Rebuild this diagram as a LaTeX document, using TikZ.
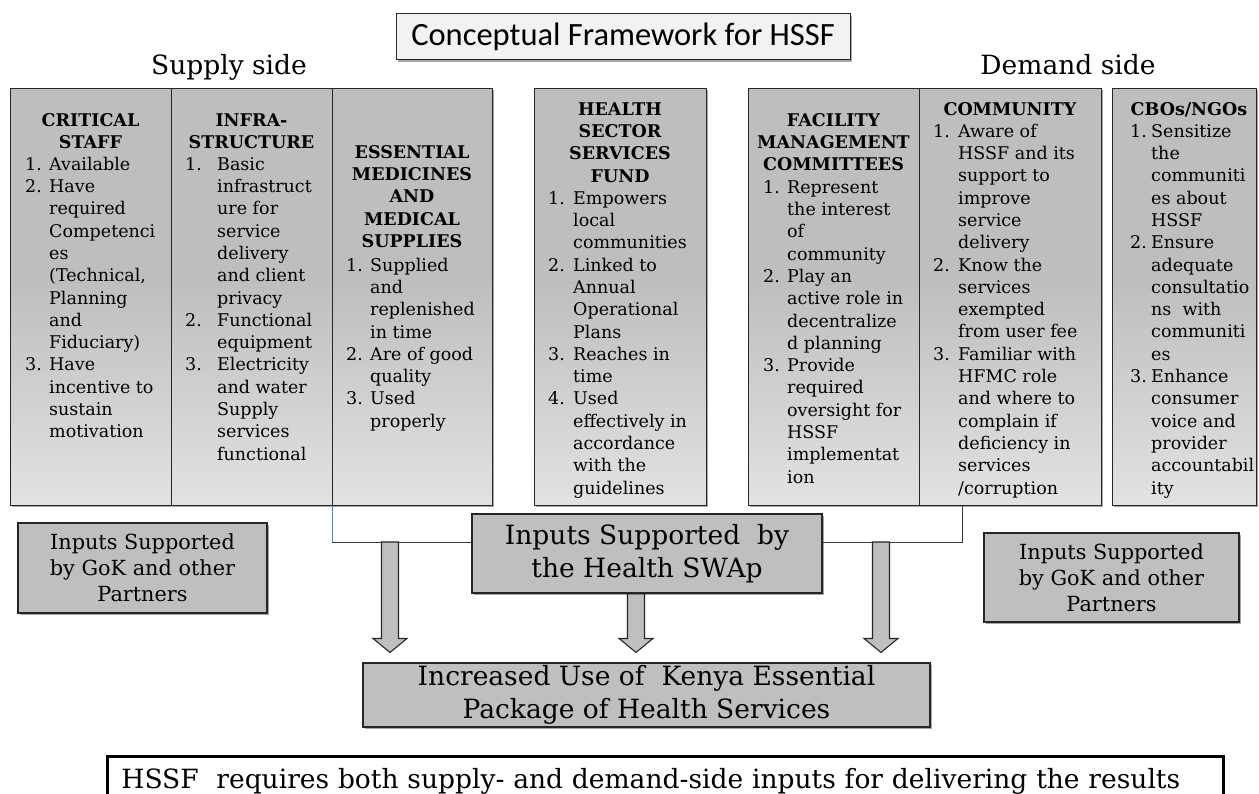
\documentclass[tikz,border=0pt]{standalone}
\usepackage{fontspec}
\setmainfont{DejaVu Serif}
\newfontfamily\titlefont{Carlito}
\usetikzlibrary{shadows,calc}
\definecolor{gtop}{HTML}{BEBEBE}
\definecolor{gbot}{HTML}{E2E2E2}
\definecolor{boxgray}{HTML}{BFBFBF}
\definecolor{titlefill}{HTML}{F2F2F2}
\definecolor{edge}{HTML}{262626}
\definecolor{bluelink}{HTML}{4F81BD}
\definecolor{linkgray}{HTML}{3A3A3A}
\pgfdeclareverticalshading{colgrad}{100bp}{color(0bp)=(gbot); color(25bp)=(gbot); color(52bp)=(gtop); color(100bp)=(gtop)}
\newcommand\bodyfont{\fontsize{17.5}{22.3}\selectfont}
\newcommand\firstl{\rule{0pt}{15pt}}
\newcommand\numlab[2]{\llap{\makebox[#1][l]{#2}}}
\newcommand\blockarrowpath[2]{\draw[blockarrow] ($(#1)+(-8.5,0)$) -- ($(#2)+(-8.5,-14)$) -- ($(#2)+(-17,-14)$) -- (#2) -- ($(#2)+(17,-14)$) -- ($(#2)+(8.5,-14)$) -- ($(#1)+(8.5,0)$) -- cycle;}
\begin{document}
\begin{tikzpicture}[x=1pt,y=-1pt,
  shadowed/.style={drop shadow={shadow xshift=1.8pt,shadow yshift=-1.8pt,opacity=0.35,fill=black}},
  colbox/.style={shadowed, draw=edge, line width=1.1pt, shading=colgrad, minimum height=417pt, inner sep=0pt, anchor=north west},
  greybox/.style={shadowed, draw=edge, line width=1.1pt, fill=boxgray, align=center, inner sep=0pt},
  hdr/.style={font=\bodyfont\bfseries, align=center, anchor=north, inner sep=0pt},
  lst/.style={font=\bodyfont, align=left, anchor=north west, inner sep=0pt},
  blockarrow/.style={draw=edge, line width=1.1pt, fill=boxgray, line join=miter},
  link/.style={draw=linkgray, line width=0.8pt},
  bluesegment/.style={draw=bluelink, line width=0.8pt},
  sidetitle/.style={anchor=base, inner sep=0pt, font=\fontsize{26.5}{30}\selectfont}
]
\useasboundingbox (0,0) rectangle (1259,794);

% title
\node[draw=edge, line width=1pt, fill=titlefill, shadowed, minimum width=454pt, minimum height=46pt, inner sep=0pt, font=\titlefont\fontsize{32.5}{36}\selectfont] (title) at (623,37) {Conceptual Framework for HSSF};
\node[sidetitle] (supply) at (229,75) {Supply side};
\node[sidetitle] (demand) at (1068,75) {Demand side};

% columns
\node[colbox, minimum width=161pt] (c1) at (10,88) {};
\node[colbox, minimum width=161pt] (c2) at (171,88) {};
\node[colbox, minimum width=160pt] (c3) at (332,88) {};
\node[colbox, minimum width=172pt] (hf) at (534,88) {};
\node[colbox, minimum width=171pt] (fm) at (748,88) {};
\node[colbox, minimum width=182pt] (cm) at (919,88) {};
\node[colbox, minimum width=144pt] (cb) at (1112,88) {};

% column texts
\node[hdr] (c1h) at (90.5,111) {\firstl CRITICAL\\STAFF};
\node[lst] (c1l) at (49,155) {\firstl\numlab{24pt}{1.}Available\\\numlab{24pt}{2.}Have\\required\\Competenci\\es\\(Technical,\\Planning\\and\\Fiduciary)\\\numlab{24pt}{3.}Have\\incentive to\\sustain\\motivation};

\node[hdr] (c2h) at (251.5,111) {\firstl INFRA-\\STRUCTURE};
\node[lst] (c2l) at (217,155) {\firstl\numlab{32pt}{1.}Basic\\infrastruct\\ure for\\service\\delivery\\and client\\privacy\\\numlab{32pt}{2.}Functional\\equipment\\\numlab{32pt}{3.}Electricity\\and water\\Supply\\services\\functional};

\node[hdr] (c3h) at (412,143) {\firstl ESSENTIAL\\MEDICINES\\AND\\MEDICAL\\SUPPLIES};
\node[lst] (c3l) at (370,256) {\firstl\numlab{24pt}{1.}Supplied\\and\\replenished\\in time\\\numlab{24pt}{2.}Are of good\\quality\\\numlab{24pt}{3.}Used\\properly};

\node[hdr] (hfh) at (620,100) {\firstl HEALTH\\SECTOR\\SERVICES\\FUND};
\node[lst] (hfl) at (573,189) {\firstl\numlab{25pt}{1.}Empowers\\local\\communities\\\numlab{25pt}{2.}Linked to\\Annual\\Operational\\Plans\\\numlab{25pt}{3.}Reaches in\\time\\\numlab{25pt}{4.}Used\\effectively in\\accordance\\with the\\guidelines};

\node[hdr] (fmh) at (833.5,111) {\firstl FACILITY\\MANAGEMENT\\COMMITTEES};
\node[lst] (fml) at (787,178) {\firstl\numlab{24pt}{1.}Represent\\the interest\\of\\community\\\numlab{24pt}{2.}Play an\\active role in\\decentralize\\d planning\\\numlab{24pt}{3.}Provide\\required\\oversight for\\HSSF\\implementat\\ion};

\node[hdr] (cmh) at (1010,100) {\firstl COMMUNITY};
\node[lst] (cml) at (958,122) {\firstl\numlab{25pt}{1.}Aware of\\HSSF and its\\support to\\improve\\service\\delivery\\\numlab{25pt}{2.}Know the\\services\\exempted\\from user fee\\\numlab{25pt}{3.}Familiar with\\HFMC role\\and where to\\complain if\\deficiency in\\services\\/corruption};

\node[hdr] (cbh) at (1189,100) {\firstl CBOs/NGOs};
\node[lst] (cbl) at (1151,122) {\firstl\numlab{21pt}{1.}Sensitize\\the\\communiti\\es about\\HSSF\\\numlab{21pt}{2.}Ensure\\adequate\\consultatio\\ns\ \ with\\communiti\\es\\\numlab{21pt}{3.}Enhance\\consumer\\voice and\\provider\\accountabil\\ity};

% side boxes
\node[greybox, minimum width=249pt, minimum height=90pt, font=\fontsize{20.8}{26}\selectfont] (gokl) at (142.5,568) {Inputs Supported\\by GoK and other\\Partners};
\node[greybox, minimum width=255pt, minimum height=89pt, font=\fontsize{20.8}{26}\selectfont] (gokr) at (1111.5,577.5) {Inputs Supported\\by GoK and other\\Partners};

% result box
\node[greybox, minimum width=567pt, minimum height=64pt, font=\fontsize{26.5}{33}\selectfont] (ic) at (646.5,695) {Increased Use of\ \ Kenya Essential\\Package of Health Services};

% connector points
\coordinate (lj) at (332,542);
\coordinate (rj) at (962,542);
\coordinate (a1) at (390,542);
\coordinate (a3) at (881,542);
\coordinate (a2) at (636,593);
\path (a1 |- ic.north) ++(0,-10) coordinate (t1);
\path (a2 |- ic.north) ++(0,-10) coordinate (t2);
\path (a3 |- ic.north) ++(0,-10) coordinate (t3);

\blockarrowpath{a2}{t2}

\node[greybox, minimum width=350pt, minimum height=79pt, font=\fontsize{26.5}{33}\selectfont] (sw) at (647,553.5) {Inputs Supported\ \ by\\the Health SWAp};

\draw[bluesegment] (c3.south west) -- (lj);
\draw[link] (lj) -- (lj -| sw.west);
\draw[link] (sw.east |- rj) -- (rj) -- (rj |- cm.south);

\blockarrowpath{a1}{t1}
\blockarrowpath{a3}{t3}

% note
\node[draw=black, line width=2.8pt, anchor=north west, minimum width=1116pt, minimum height=50pt, inner xsep=14pt, inner ysep=0pt, text width=1088pt, align=left, font=\fontsize{26.5}{30}\selectfont] (note) at (106,755) {HSSF\ \ requires both supply- and demand-side inputs for delivering the results};
\end{tikzpicture}
\end{document}
